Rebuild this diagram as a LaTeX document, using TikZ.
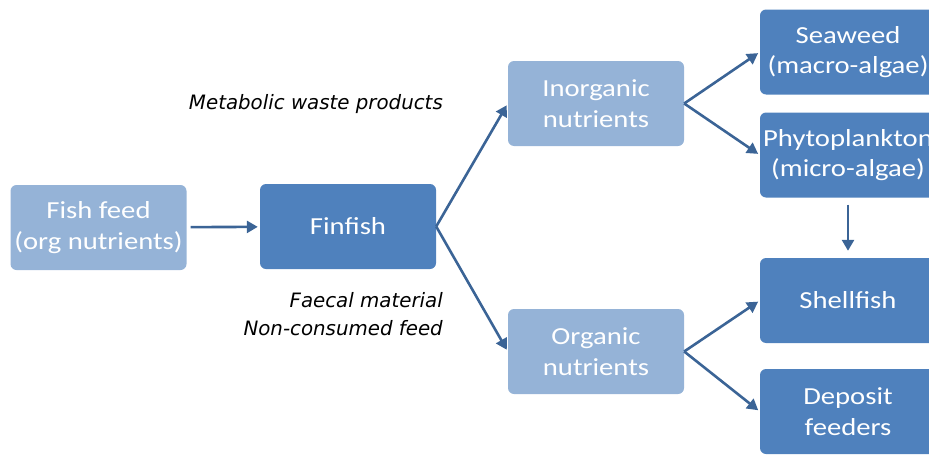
\documentclass[tikz,border=0pt]{standalone}
\usepackage{fontspec}
\setmainfont{Carlito}
\newfontfamily\boxfont[FakeStretch=1.17]{Carlito}
\newfontfamily\notefont{DejaVu Sans}
\usetikzlibrary{arrows.meta,positioning}
\definecolor{lightblue}{HTML}{95B3D7}
\definecolor{darkblue}{HTML}{4F81BD}
\definecolor{arrowblue}{HTML}{3B6496}
\tikzset{
  box/.style={rectangle,rounded corners=6pt,minimum width=176pt,minimum height=85pt,
    text=white,align=center,inner sep=0pt,font=\boxfont\fontsize{24.5}{30.5}\selectfont},
  lightbox/.style={box,fill=lightblue},
  darkbox/.style={box,fill=darkblue},
  flow/.style={draw=arrowblue,line width=2.6pt,-{Triangle[length=11pt,width=12pt]}},
  note/.style={font=\notefont\itshape\fontsize{19.8}{28}\selectfont,inner sep=0pt}
}
\begin{document}
\begin{tikzpicture}[x=1pt,y=-1pt]
    \useasboundingbox (0,0) rectangle (929,455);
    \node[lightbox] (feed) at (98.5,227.5) {Fish feed\\(org nutrients)};
    \node[darkbox] (fin) at (348,226.5) {Finfish};
    \node[lightbox] (inorg) at (596,103.5) {Inorganic\\nutrients};
    \node[lightbox] (org) at (596,351.5) {Organic\\nutrients};
    \node[darkbox] (sea) at (848,52) {Seaweed\\(macro-algae)};
    \node[darkbox] (phyto) at (848,155) {Phytoplankton\\(micro-algae)};
    \node[darkbox] (shell) at (848,300.5) {Shellfish};
    \node[darkbox] (dep) at (848,411.5) {Deposit\\feeders};

    \node[note,anchor=east] (waste) at (443,104) {Metabolic waste products};
    \node[note,anchor=east,align=right] (faecal) at (443,314) {Faecal material\\Non-consumed feed};

    \draw[flow,shorten <=4pt,shorten >=2pt] (feed) -- (fin);
    \foreach \from/\to in {fin/inorg,fin/org,inorg/sea,inorg/phyto,org/shell,org/dep}
    \draw[flow,shorten >=2pt] (\from.east) -- (\to.west);
    \draw[flow,shorten <=7pt,shorten >=7pt] (phyto) -- (shell);
\end{tikzpicture}
\end{document}
